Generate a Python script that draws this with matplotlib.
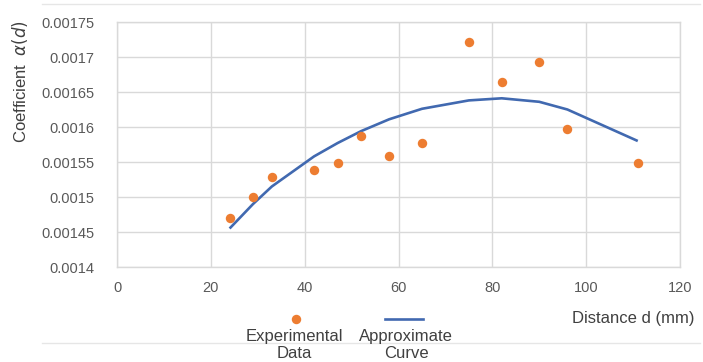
import matplotlib
matplotlib.use("Agg")
import matplotlib.pyplot as plt
from matplotlib.lines import Line2D

# Data
exp_d = [24, 29, 33, 42, 47, 52, 58, 65, 75, 82, 90, 96, 111]
exp_alpha = [0.001470, 0.001500, 0.001529, 0.001539, 0.001549, 0.001587, 0.001559,
             0.001577, 0.001721, 0.001664, 0.001693, 0.001597, 0.001549]
curve_d = [24, 29, 33, 42, 47, 52, 58, 65, 75, 82, 90, 96, 111]
curve_alpha = [0.001455, 0.001490, 0.001515, 0.001558, 0.001577, 0.001594, 0.001611,
               0.001626, 0.001638, 0.001641, 0.001636, 0.001625, 0.001580]
x_ticks = [0, 20, 40, 60, 80, 100, 120]
y_ticks = [0.0014, 0.00145, 0.0015, 0.00155, 0.0016, 0.00165, 0.0017, 0.00175]
y_ticklabels = ["0.0014", "0.00145", "0.0015", "0.00155", "0.0016", "0.00165", "0.0017", "0.00175"]

W, H = 703, 362
fig = plt.figure(figsize=(W / 100, H / 100), dpi=100)
plt.rcParams['font.family'] = ['Liberation Sans', 'DejaVu Sans']

left, right, top, bottom = 117, 680, 22, 267
ax = fig.add_axes([left / W, 1 - bottom / H, (right - left) / W, (bottom - top) / H])

grid_c = '#d9d9d9'
text_c = '#595959'
orange = '#ED7D31'
blue = '#4169B0'

ax.plot(curve_d, curve_alpha, color=blue, lw=1.9, zorder=3, solid_capstyle='butt')
ax.plot(exp_d, exp_alpha, 'o', color=orange, markersize=6.8, markeredgewidth=0, zorder=4)

ax.set_xlim(0, 120)
ax.set_ylim(0.0014, 0.00175)
ax.set_xticks(x_ticks)
ax.set_yticks(y_ticks)
ax.set_yticklabels(y_ticklabels)
ax.grid(True, color=grid_c, lw=1.0)
ax.set_axisbelow(True)
for s in ax.spines.values():
    s.set_color(grid_c)
    s.set_linewidth(1.0)
ax.tick_params(length=0, labelsize=10.5, colors=text_c)
ax.tick_params(axis='x', pad=10)
ax.tick_params(axis='y', pad=16)

fig.text(20 / W, 1 - 82 / H, 'Coefficient  $\\alpha(d)$', rotation=90, ha='center', va='center',
         fontsize=12, color='#404040')

# Legend (manual)
fig.add_artist(Line2D([296 / W], [1 - 319 / H], marker='o', color=orange, markersize=6.8,
                      markeredgewidth=0, linestyle='none', transform=fig.transFigure))
fig.text(294 / W, 1 - 345 / H, 'Experimental\nData', ha='center', va='center', fontsize=12,
         color='#404040', linespacing=1.1)
fig.add_artist(Line2D([385 / W, 423 / W], [1 - 319 / H, 1 - 319 / H], color=blue, lw=1.9,
                      transform=fig.transFigure))
fig.text(406 / W, 1 - 345 / H, 'Approximate\nCurve', ha='center', va='center', fontsize=12,
         color='#404040', linespacing=1.1)
fig.text(633 / W, 1 - 319 / H, 'Distance d (mm)', ha='center', va='center', fontsize=12,
         color='#404040')

# border lines
fig.add_artist(Line2D([42 / W, 700 / W], [1 - 4 / H, 1 - 4 / H], color='#e6e6e6', lw=1.0,
                      transform=fig.transFigure))
fig.add_artist(Line2D([42 / W, 700 / W], [1 - 343 / H, 1 - 343 / H], color='#e6e6e6', lw=1.0,
                      transform=fig.transFigure, zorder=0))

fig.savefig('out.png', dpi=100)
